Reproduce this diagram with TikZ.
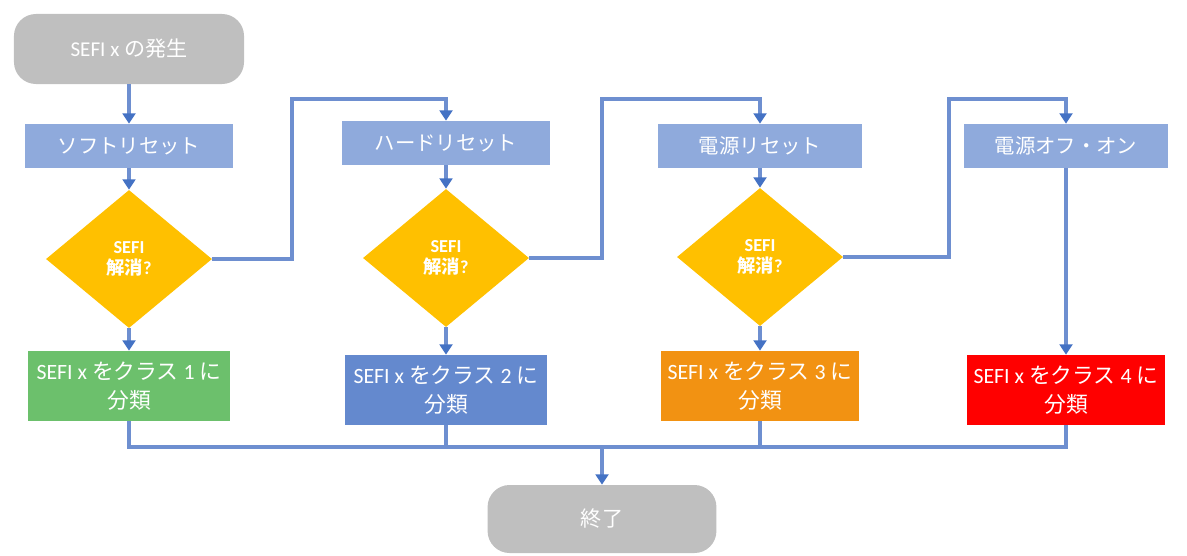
\documentclass[tikz,border=0pt]{standalone}
\usepackage{fontspec}
\setmainfont{Carlito}
\newfontfamily\jp{Noto Sans CJK JP}
\usetikzlibrary{arrows.meta,shapes.geometric}
\definecolor{termgray}{RGB}{191,191,191}
\definecolor{resetblue}{RGB}{143,170,220}
\definecolor{decideamber}{RGB}{255,192,0}
\definecolor{classgreen}{RGB}{108,192,108}
\definecolor{classblue}{RGB}{100,137,206}
\definecolor{classorange}{RGB}{242,146,18}
\definecolor{classred}{RGB}{255,0,0}
\definecolor{linkblue}{RGB}{110,143,208}
\definecolor{tipblue}{RGB}{68,114,196}
\tikzset{
  term/.style={rounded corners=0.55cm, fill=termgray, text=white, minimum width=5.75cm, minimum height=1.75cm, font=\fontsize{15}{18}\selectfont},
  resetbox/.style={fill=resetblue, text=white, minimum width=5.2cm, minimum height=1.1cm, font=\jp\fontsize{14.5}{17}\selectfont},
  decide/.style={diamond, fill=decideamber, text=white, minimum width=4.15cm, minimum height=3.45cm, inner sep=0pt, align=center, font=\bfseries\fontsize{13}{15}\selectfont},
  classbox/.style={text=white, minimum width=5.05cm, minimum height=1.75cm, align=center, font=\fontsize{15.5}{21}\selectfont},
  link/.style={draw=linkblue, line width=2.2pt},
  flow/.style={link, -{Triangle[width=0.32cm,length=0.26cm,color=tipblue]}},
}

\begin{document}
\begin{tikzpicture}[x=0.025cm,y=-0.025cm]
		%%%%% START %%%%%
		\useasboundingbox (0,0) rectangle (1187,555);
		
		\node[term] (start) at (129,49) {SEFI x {\jp の発生}};
		
		\node[resetbox] (r1) at (129,146) {ソフトリセット};
		\node[resetbox] (r2) at (446,143) {ハードリセット};
		\node[resetbox, minimum width=5.1cm] (r3) at (760,146) {電源リセット};
		\node[resetbox, minimum width=5.1cm] (r4) at (1066,146) {電源オフ・オン};
		
		\node[decide] (d1) at (129,259) {SEFI\\{\jp 解消}?};
		\node[decide] (d2) at (446,258) {SEFI\\{\jp 解消}?};
		\node[decide] (d3) at (760,257) {SEFI\\{\jp 解消}?};
		
		\node[classbox, fill=classgreen] (c1) at (129,386) {SEFI x {\jp をクラス} 1 {\jp に}\\{\jp 分類}};
		\node[classbox, fill=classblue] (c2) at (446,390) {SEFI x {\jp をクラス} 2 {\jp に}\\{\jp 分類}};
		\node[classbox, fill=classorange, minimum width=4.95cm] (c3) at (760,386) {SEFI x {\jp をクラス} 3 {\jp に}\\{\jp 分類}};
		\node[classbox, fill=classred, minimum width=4.95cm] (c4) at (1066,390) {SEFI x {\jp をクラス} 4 {\jp に}\\{\jp 分類}};
		
		\node[term, minimum width=5.72cm, minimum height=1.7cm] (finish) at (602,519) {{\jp 終了}};
		
		% down the columns
		\draw[flow] (start) -- (r1);
		\foreach \i in {1,2,3}{
			\draw[flow] (r\i) -- (d\i);
			\draw[flow] (d\i) -- (c\i);
		}
		\draw[flow] (r4) -- (c4);
		
		% not cleared: on to the next reset
		\coordinate (u1) at (292,99);
		\coordinate (u2) at (602,99);
		\coordinate (u3) at (949,99);
		\draw[flow] (d1.east) -| (u1) -| (r2.north);
		\draw[flow] (d2.east) -| (u2) -| (r3.north);
		\draw[flow] (d3.east) -| (u3) -| (r4.north);
		
		% gather to the end
		\coordinate (bus) at (602,447);
		\draw[link] (c1.south) |- (bus -| c4.south) -- (c4.south);
		\draw[link] (c2.south) -- (c2.south |- bus);
		\draw[link] (c3.south) -- (c3.south |- bus);
		\draw[flow] (bus) -- (finish);
		
		%%%%% END %%%%%
	\end{tikzpicture}
\end{document}
